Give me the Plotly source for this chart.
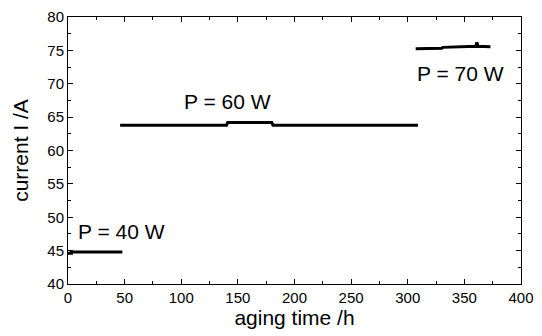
import plotly.graph_objects as go

# 40 W segment
x40 = [0, 3, 3, 48]
y40 = [44.6, 44.6, 44.8, 44.8]
# 60 W segment
x60 = [46, 140, 141, 180, 181, 309]
y60 = [63.8, 63.8, 64.2, 64.2, 63.8, 63.8]
# 70 W segment
x70 = [307, 330, 331, 359, 360, 361, 362, 373]
y70 = [75.25, 75.3, 75.45, 75.5, 75.6, 76.2, 75.6, 75.55]

labels = ["P = 40 W", "P = 60 W", "P = 70 W"]
label_x = [7, 101, 306.5]
label_y = [47.9, 67.4, 71.5]

fig = go.Figure()
for xs, ys in [(x40, y40), (x60, y60), (x70, y70)]:
    fig.add_trace(go.Scatter(x=xs, y=ys, mode="lines",
                             line=dict(color="black", width=3),
                             showlegend=False))

for t, lx, ly in zip(labels, label_x, label_y):
    fig.add_annotation(x=lx, y=ly, text=t, showarrow=False, xanchor="left",
                       yanchor="middle", font=dict(size=21, color="black"))

axis_common = dict(showgrid=False, zeroline=False, showline=True, linecolor="black",
                   linewidth=1, mirror="allticks", ticks="inside", ticklen=5,
                   tickcolor="black", tickfont=dict(size=15, color="black"),
                   automargin=False)

fig.update_xaxes(range=[0, 400], dtick=50, tick0=0,
                 title=dict(text="aging time /h", font=dict(size=21, color="black"), standoff=0),
                 minor=dict(dtick=25, ticks="inside", ticklen=3, tickcolor="black"),
                 **axis_common)
fig.update_yaxes(range=[40, 80], dtick=5, tick0=40,
                 title=dict(text="current I /A", font=dict(size=21, color="black"), standoff=12),
                 minor=dict(dtick=2.5, ticks="inside", ticklen=3, tickcolor="black"),
                 **axis_common)

# page body has an 8px default margin, so the figure is sized/offset to compensate
fig.update_layout(width=534, height=328, margin=dict(l=60, r=21, t=9, b=52),
                  plot_bgcolor="white", paper_bgcolor="white",
                  font=dict(family="Liberation Sans, Arial, sans-serif", color="black"))

fig.write_html("out.html")
